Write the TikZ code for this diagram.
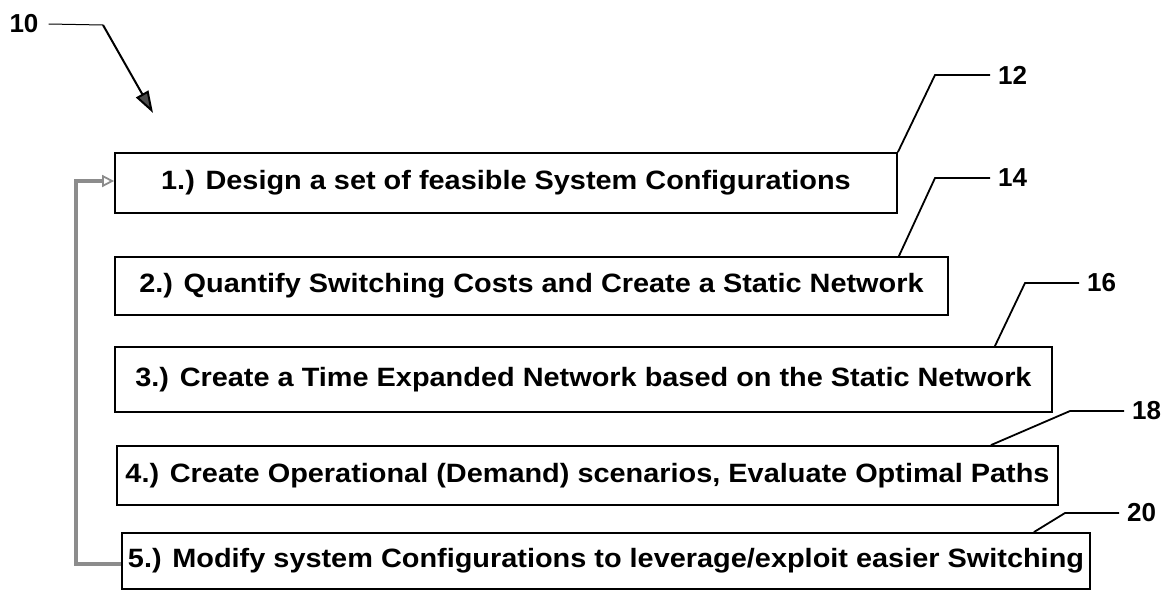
\documentclass[tikz,border=0pt]{standalone}
\usepackage{fontspec}
\setmainfont{Liberation Sans}
\newfontfamily\stepfont[FakeStretch=1.09]{Liberation Sans}
\usetikzlibrary{arrows.meta}
\begin{document}
\begin{tikzpicture}[x=1pt,y=-1pt,
  stepbox/.style={draw=black, line width=1.8pt, inner sep=0pt,
    font=\stepfont\fontsize{26.5}{30}\selectfont\bfseries},
  reflabel/.style={font=\fontsize{26}{30}\selectfont\bfseries, inner sep=0pt},
  leader/.style={draw=black, line width=1.8pt},
  feedback/.style={draw=black!45, line width=3.5pt,
    -{Triangle[open, length=12pt, width=12pt, line width=1.8pt]}}]
\useasboundingbox (0,0) rectangle (1172,590);

% process steps
\node[stepbox, minimum width=782pt, minimum height=60pt] (s1) at (506,183)
  {1.) Design a set of feasible System Configurations};
\node[stepbox, minimum width=833pt, minimum height=58pt] (s2) at (531.5,286)
  {2.) Quantify Switching Costs and Create a Static Network};
\node[stepbox, minimum width=937pt, minimum height=65pt] (s3) at (583.5,379.5)
  {3.) Create a Time Expanded Network based on the Static Network};
\node[stepbox, minimum width=941pt, minimum height=59pt] (s4) at (587.5,475.5)
  {4.) Create Operational (Demand) scenarios, Evaluate Optimal Paths};
\node[stepbox, minimum width=968pt, minimum height=56pt] (s5) at (606,561)
  {5.) Modify system Configurations to leverage/exploit easier Switching};

% reference numerals
\node[reflabel] (l10) at (24,24) {10};
\node[reflabel, anchor=west] (l12) at (998,75) {12};
\node[reflabel, anchor=west] (l14) at (998,178) {14};
\node[reflabel, anchor=west] (l16) at (1087,283) {16};
\node[reflabel, anchor=west] (l18) at (1132,411) {18};
\node[reflabel, anchor=west] (l20) at (1127,513) {20};

% overall figure pointer
\coordinate (k10) at (103,25);
\coordinate (t10) at (153,113);
\draw[black, line width=1pt] ([xshift=10pt]l10.east) -- (k10);
\draw[black, line width=2pt,
  -{Triangle[length=22pt, width=14pt, fill=black!70]}] (k10) -- (t10);

% leaders
\draw[leader] (s1.north east) -- (935,75) -- ([xshift=-8pt]l12.west);
\draw[leader] ([xshift=-50pt]s2.north east) -- (935,178) -- ([xshift=-8pt]l14.west);
\draw[leader] ([xshift=-58pt]s3.north east) -- (1025,283) -- ([xshift=-8pt]l16.west);
\draw[leader] ([xshift=-68pt]s4.north east) -- (1070,411) -- ([xshift=-8pt]l18.west);
\draw[leader] ([xshift=-57pt]s5.north east) -- (1065,513) -- ([xshift=-8pt]l20.west);

% iteration loop back to the first step
\draw[feedback] ([yshift=-3pt]s5.west) -- ++(-45,0) |- ([yshift=2pt]s1.west);
\end{tikzpicture}
\end{document}
